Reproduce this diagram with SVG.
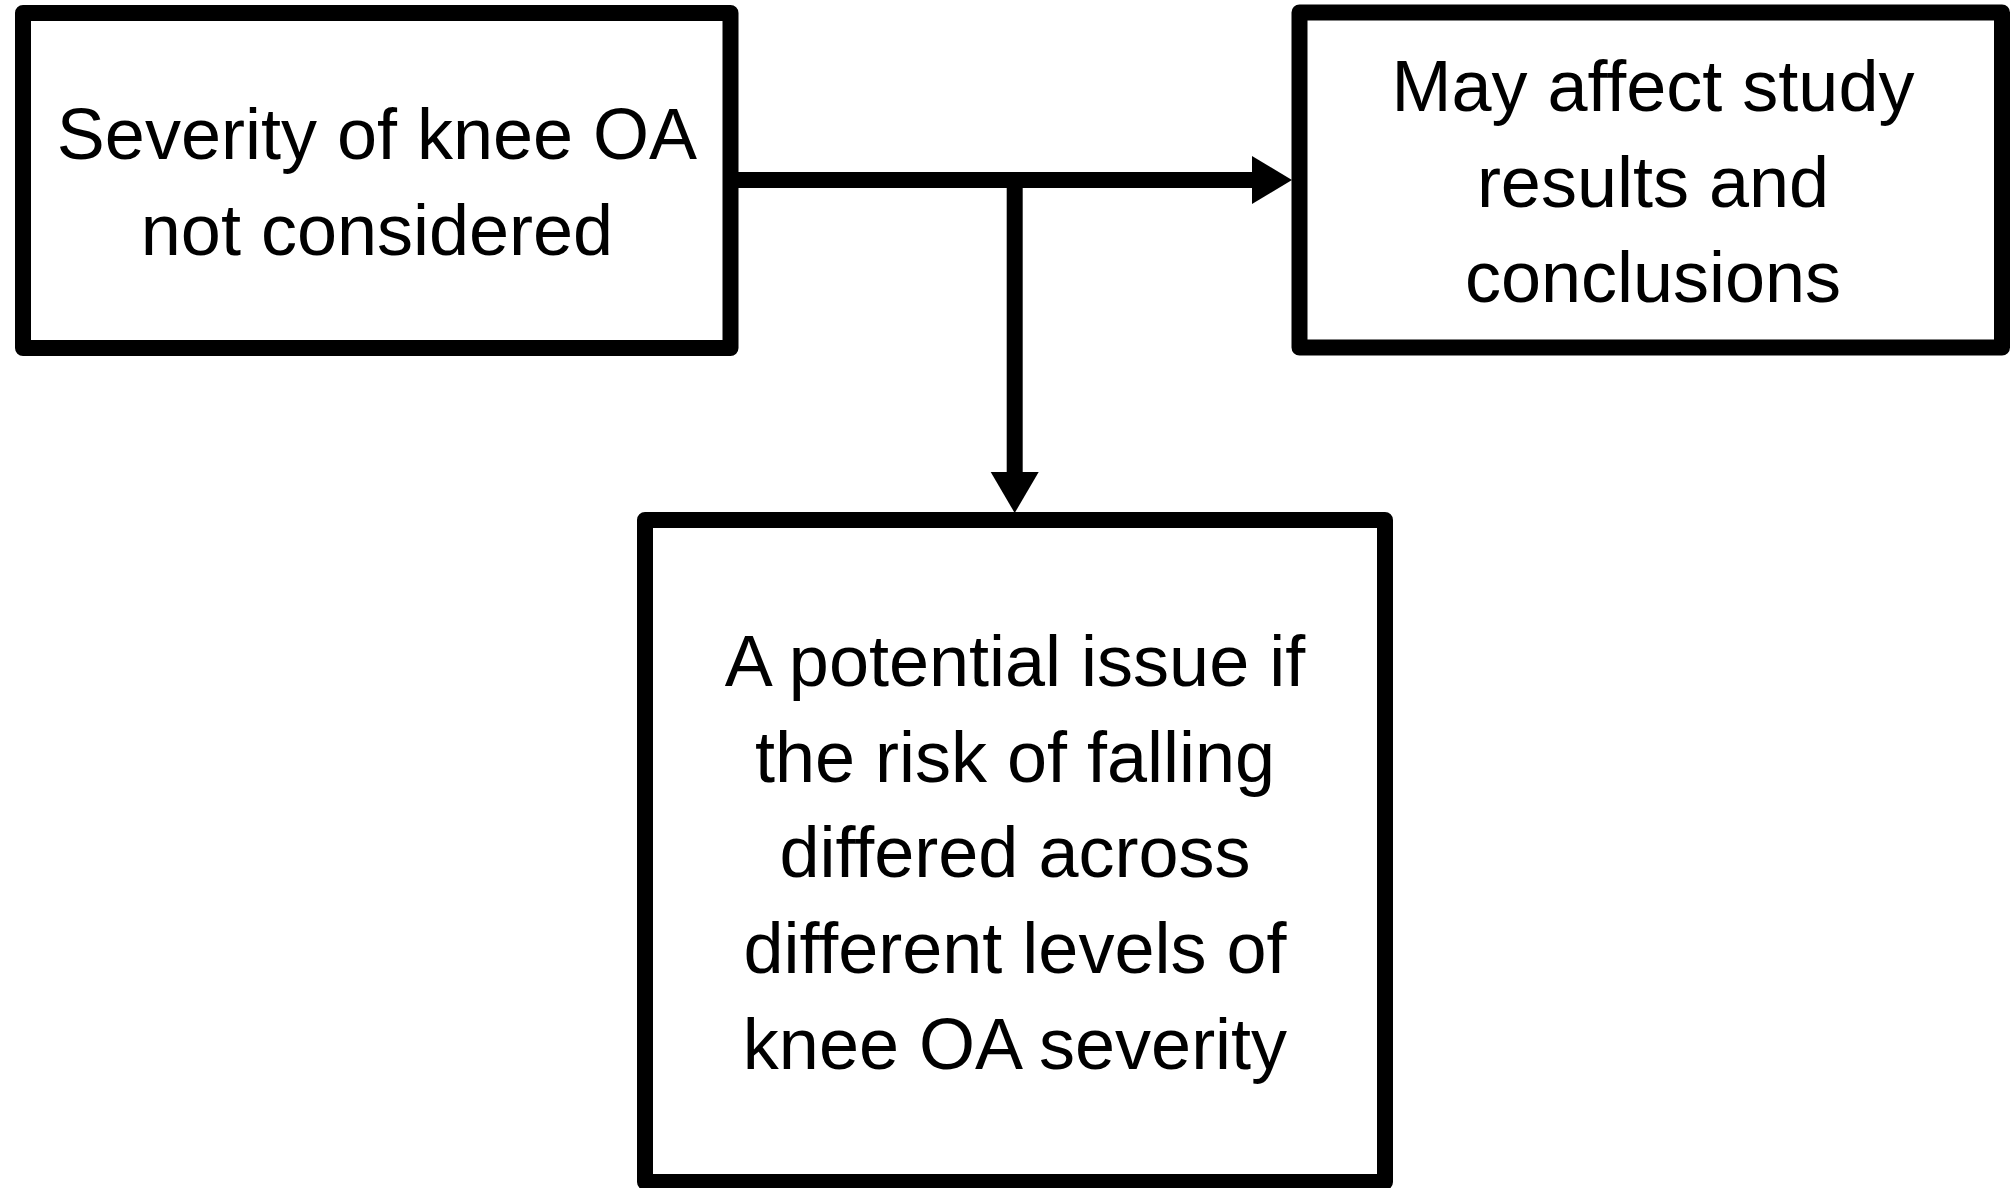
<svg xmlns="http://www.w3.org/2000/svg" width="2013" height="1188" viewBox="0 0 2013 1188">
<style>
.box{fill:#fff;stroke:#000;stroke-width:16;stroke-linejoin:round}
.lbl{font-family:"Liberation Sans",Arial,sans-serif;font-size:72px;fill:#000;text-anchor:middle}
.conn{stroke:#000;stroke-width:16;fill:none}
.head{fill:#000}
</style>
<rect width="2013" height="1188" fill="#fff"/>
<g id="connectors">
<line class="conn" x1="738" y1="180" x2="1254" y2="180"/>
<polygon class="head" points="1252,156 1292,180 1252,204"/>
<line class="conn" x1="1014.7" y1="172" x2="1014.7" y2="474"/>
<polygon class="head" points="990.7,472 1038.7,472 1014.7,513"/>
</g>
<g id="node-severity">
<rect class="box" x="23" y="13" width="707.5" height="335"/>
<text class="lbl" x="377" y="159">Severity of knee OA</text>
<text class="lbl" x="377" y="255">not considered</text>
</g>
<g id="node-affect">
<rect class="box" x="1299.5" y="12.5" width="702.5" height="335"/>
<text class="lbl" x="1653" y="111">May affect study</text>
<text class="lbl" x="1653" y="207">results and</text>
<text class="lbl" x="1653" y="302">conclusions</text>
</g>
<g id="node-issue">
<rect class="box" x="645" y="520" width="740" height="662"/>
<text class="lbl" x="1015" y="686">A potential issue if</text>
<text class="lbl" x="1015" y="782">the risk of falling</text>
<text class="lbl" x="1015" y="877">differed across</text>
<text class="lbl" x="1015" y="973">different levels of</text>
<text class="lbl" x="1015" y="1069">knee OA severity</text>
</g>
</svg>
